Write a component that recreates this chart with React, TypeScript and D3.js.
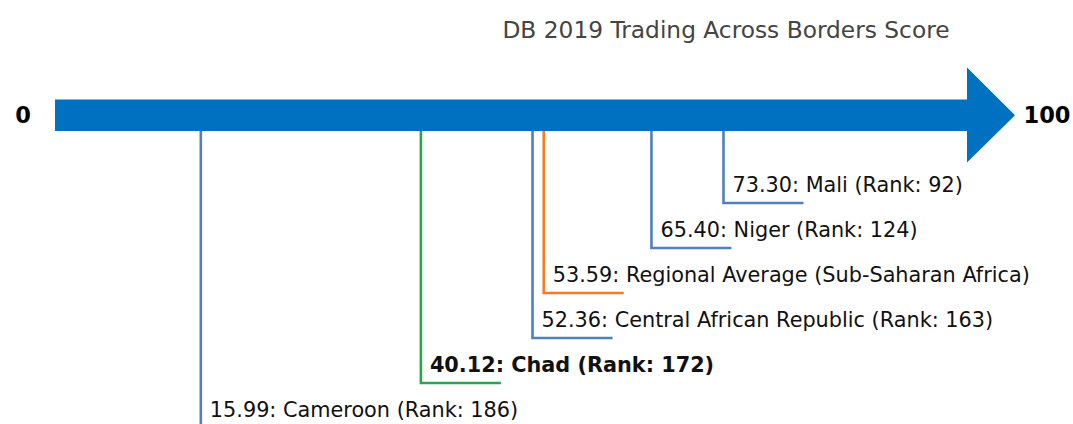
import React from "react";
import * as d3 from "d3";

const title = "DB 2019 Trading Across Borders Score";
const names = ["Mali", "Niger", "Regional Average (Sub-Saharan Africa)", "Central African Republic", "Chad", "Cameroon"];
const scores = [73.3, 65.4, 53.59, 52.36, 40.12, 15.99];
const ranks: (number | null)[] = [92, 124, null, 163, 172, 186];
const kinds = ["peer", "peer", "regional", "peer", "focus", "peer"];
const domainLabels = ["0", "100"];

const W = 1073;
const H = 424;
const colorOf: Record<string, string> = { peer: "#4f81bd", regional: "#f47d20", focus: "#2ca44c" };

export default function App() {
  const x = d3.scaleLinear().domain([0, 100]).range([55, 967]);
  const y = d3.scalePoint<number>().domain(d3.range(names.length)).range([203, 203 + 45 * (names.length - 1)]);
  const barTop = 99.5;
  const barBot = 131;
  const headTop = 67.5;
  const headBot = 162.5;
  const tipX = 1015;
  const midY = (barTop + barBot) / 2;
  const arrow = d3.path();
  arrow.moveTo(x(0), barTop);
  arrow.lineTo(x(100), barTop);
  arrow.lineTo(x(100), headTop);
  arrow.lineTo(tipX, midY);
  arrow.lineTo(x(100), headBot);
  arrow.lineTo(x(100), barBot);
  arrow.lineTo(x(0), barBot);
  arrow.closePath();
  const font = "'DejaVu Sans', sans-serif";
  return (
    <svg width={W} height={H} style={{ position: "absolute", left: 0, top: 0, background: "#fff" }} fontFamily={font}>
      <text x={726} y={38} textAnchor="middle" fontSize={23.3} fill="#444">{title}</text>
      {names.map((n, i) => {
        const xv = x(scores[i]);
        const yv = y(i)!;
        const label = `${scores[i].toFixed(2)}: ${n}${ranks[i] != null ? ` (Rank: ${ranks[i]})` : ""}`;
        return (
          <g key={n}>
            <path d={`M${xv},${barBot - 2}V${yv}H${xv + 80}`} fill="none" stroke={colorOf[kinds[i]]} strokeWidth={2.6} />
            <text x={xv + 9} y={yv - 11} fontSize={20.8} fill="#111" fontWeight={kinds[i] === "focus" ? "bold" : "normal"}>{label}</text>
          </g>
        );
      })}
      <path d={arrow.toString()} fill="#0070c0" />
      <text x={23} y={123} textAnchor="middle" fontSize={22.5} fontWeight="bold" fill="#000">{domainLabels[0]}</text>
      <text x={1047} y={123} textAnchor="middle" fontSize={22.5} fontWeight="bold" fill="#000">{domainLabels[1]}</text>
    </svg>
  );
}
